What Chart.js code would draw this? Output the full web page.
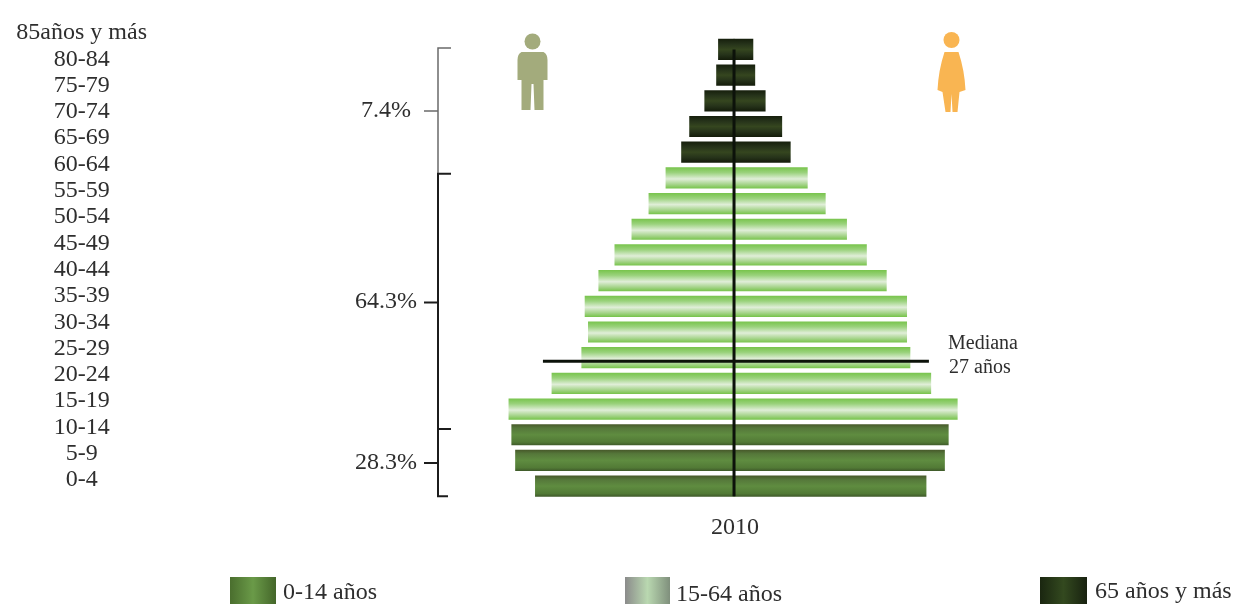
<!DOCTYPE html>
<html lang="es">
<head>
    <meta charset="UTF-8">
    <title>Pirámide de población 2010</title>
    <script src="https://cdn.jsdelivr.net/npm/chart.js"></script>
    <style>
        html, body { margin: 0; padding: 0; background: #fff; }
        canvas { display: block; }
    </style>
</head>
<body>
    <canvas id="myChart" width="1243" height="607"></canvas>

    <script>
        // Age groups, oldest first
        const ageTicks = ['85años y más', '80-84', '75-79', '70-74', '65-69', '60-64', '55-59', '50-54', '45-49',
            '40-44', '35-39', '30-34', '25-29', '20-24', '15-19', '10-14', '5-9', '0-4'];

        // Share of population per bar, in percent (men to the left, women to the right)
        const men = [0.33, 0.37, 0.62, 0.94, 1.11, 1.44, 1.80, 2.16, 2.52, 2.86, 3.15, 3.08, 3.22, 3.85, 4.76, 4.70, 4.62, 4.20];
        const women = [0.40, 0.44, 0.66, 1.01, 1.19, 1.55, 1.93, 2.38, 2.80, 3.22, 3.65, 3.65, 3.72, 4.16, 4.72, 4.53, 4.45, 4.06];

        // Broad age group of each bar: 2 = 65+, 1 = 15-64, 0 = 0-14
        const bands = [2, 2, 2, 2, 2, 1, 1, 1, 1, 1, 1, 1, 1, 1, 1, 0, 0, 0];
        const bandNames = ['0-14 años', '15-64 años', '65 años y más'];

        // Brackets on the left: edges on the bar scale and their shares
        const bracketEdges = [-0.06, 4.84, 14.78, 17.39];
        const bracketMiddles = [2.4, 9.85, 16.1];
        const bracketLabels = ['7.4%', '64.3%', '28.3%'];

        const medianBar = 12.14;
        const medianSpan = [-4.04, 4.12];
        const year = '2010';

        const serif = '"Liberation Serif", serif';
        const textColor = '#2e2e2e';

        const bandStops = [
            [[0, '#47592a'], [0.18, '#55773a'], [0.5, '#5f8c40'], [0.85, '#527a36'], [1, '#3f5a2a']],
            [[0, '#78c44c'], [0.25, '#9ad27c'], [0.55, '#e0eed8'], [0.8, '#a8d58e'], [1, '#78c44c']],
            [[0, '#161f0c'], [0.25, '#26331a'], [0.5, '#35461f'], [0.75, '#26331a'], [1, '#141c0a']]
        ];

        function barFill(context) {
            const { chart, parsed, dataIndex } = context;
            const center = parsed && chart.scales.y ? chart.scales.y.getPixelForValue(parsed.y) : NaN;
            // scales have no pixels yet on the first pass
            if (!Number.isFinite(center)) return bandStops[bands[dataIndex]][2][1];
            const g = chart.ctx.createLinearGradient(0, center - 10.5, 0, center + 10.5);
            bandStops[bands[dataIndex]].forEach(s => g.addColorStop(s[0], s[1]));
            return g;
        }

        function drawFigure(ctx, cx, color, female) {
            ctx.fillStyle = color;
            ctx.beginPath();
            ctx.arc(cx, female ? 40 : 41.5, 8, 0, Math.PI * 2);
            ctx.fill();
            ctx.beginPath();
            if (female) {
                ctx.moveTo(cx - 7, 52);
                ctx.lineTo(cx + 7, 52);
                ctx.quadraticCurveTo(cx + 13, 70, cx + 14, 90);
                ctx.lineTo(cx + 8, 92);
                ctx.lineTo(cx + 6, 112);
                ctx.lineTo(cx + 1, 112);
                ctx.lineTo(cx, 94);
                ctx.lineTo(cx - 1, 112);
                ctx.lineTo(cx - 6, 112);
                ctx.lineTo(cx - 9, 92);
                ctx.lineTo(cx - 14, 90);
                ctx.quadraticCurveTo(cx - 13, 70, cx - 7, 52);
            } else {
                ctx.moveTo(cx - 11, 52);
                ctx.lineTo(cx + 11, 52);
                ctx.quadraticCurveTo(cx + 15, 54, cx + 15, 60);
                ctx.lineTo(cx + 15, 80);
                ctx.lineTo(cx + 11, 80);
                ctx.lineTo(cx + 11, 110);
                ctx.lineTo(cx + 2, 110);
                ctx.lineTo(cx + 1, 84);
                ctx.lineTo(cx - 1, 84);
                ctx.lineTo(cx - 2, 110);
                ctx.lineTo(cx - 11, 110);
                ctx.lineTo(cx - 11, 80);
                ctx.lineTo(cx - 15, 80);
                ctx.lineTo(cx - 15, 60);
                ctx.quadraticCurveTo(cx - 15, 54, cx - 11, 52);
            }
            ctx.fill();
        }

        // Median line, centre line, brackets, figures and legend
        const annotations = {
            id: 'annotations',
            afterDatasetsDraw(chart) {
                const { ctx, scales: { x, y } } = chart;
                const zero = x.getPixelForValue(0);
                ctx.save();

                ctx.strokeStyle = '#0c120a';
                ctx.lineWidth = 3;
                ctx.beginPath();
                ctx.moveTo(zero, y.getPixelForValue(0));
                ctx.lineTo(zero, y.getPixelForValue(17.39));
                ctx.stroke();

                const medianY = y.getPixelForValue(medianBar);
                ctx.lineWidth = 3;
                ctx.beginPath();
                ctx.moveTo(x.getPixelForValue(medianSpan[0]), medianY);
                ctx.lineTo(x.getPixelForValue(medianSpan[1]), medianY);
                ctx.stroke();

                ctx.fillStyle = textColor;
                ctx.textBaseline = 'alphabetic';
                ctx.textAlign = 'left';
                ctx.font = '20px ' + serif;
                ctx.fillText('Mediana', 948, 349);
                ctx.fillText('27 años', 949, 373);

                ctx.textAlign = 'center';
                ctx.font = '24px ' + serif;
                ctx.fillText(year, zero + 1, 534);

                // Brackets
                const bx = 438;
                bracketLabels.forEach((label, i) => {
                    const top = y.getPixelForValue(bracketEdges[i]);
                    const bottom = y.getPixelForValue(bracketEdges[i + 1]);
                    const mid = y.getPixelForValue(bracketMiddles[i]);
                    ctx.strokeStyle = i === 0 ? '#6a6a6a' : '#1c1c1c';
                    ctx.lineWidth = i === 0 ? 1.5 : 2;
                    ctx.beginPath();
                    ctx.moveTo(bx + 13, top);
                    ctx.lineTo(bx, top);
                    ctx.lineTo(bx, bottom);
                    if (i === 2) ctx.lineTo(bx + 10, bottom);
                    ctx.moveTo(bx, mid);
                    ctx.lineTo(bx - 14, mid);
                    ctx.stroke();
                    ctx.textAlign = 'center';
                    ctx.fillText(label, 386, mid + 6);
                });

                drawFigure(ctx, 532.5, '#a3ab7c', false);
                drawFigure(ctx, 951.5, '#f9b552', true);

                // Legend
                const swatches = [[230, 46, 283, 599], [625, 45, 676, 601], [1040, 47, 1095, 598]];
                const swatchStops = [
                    [[0, '#4a6e2e'], [0.5, '#6a9a48'], [1, '#44662a']],
                    [[0, '#8b8b8b'], [0.5, '#b9d8b0'], [1, '#7f8f7c']],
                    [[0, '#1a2610'], [0.5, '#33491f'], [1, '#182210']]
                ];
                bandNames.forEach((name, i) => {
                    const [sx, sw, tx, ty] = swatches[i];
                    const g = ctx.createLinearGradient(sx, 0, sx + sw, 0);
                    swatchStops[i].forEach(s => g.addColorStop(s[0], s[1]));
                    ctx.fillStyle = g;
                    ctx.fillRect(sx, 577, sw, 27);
                    ctx.fillStyle = textColor;
                    ctx.textAlign = 'left';
                    ctx.fillText(name, tx, ty);
                });
                ctx.restore();
            }
        };

        const chartCtx = document.getElementById('myChart').getContext('2d');
        const myChart = new Chart(chartCtx, {
            type: 'bar',
            data: {
                datasets: [
                    { label: 'Hombres', data: men.map((v, i) => ({ x: -v, y: i })), backgroundColor: barFill },
                    { label: 'Mujeres', data: women.map((v, i) => ({ x: v, y: i })), backgroundColor: barFill }
                ]
            },
            options: {
                indexAxis: 'y',
                responsive: false,
                animation: false,
                barThickness: 20.5,
                layout: { autoPadding: false, padding: { top: 10, bottom: 97, left: 0, right: 0 } },
                plugins: { legend: { display: false }, tooltip: { enabled: false } },
                scales: {
                    x: { type: 'linear', stacked: true, display: false, min: -12.347, max: 10.76 },
                    y: { type: 'linear', stacked: true, display: false, offset: false, reverse: true, min: -1.247, max: 17.93 },
                    // Age labels run on their own slightly wider spacing
                    yAge: {
                        type: 'linear',
                        axis: 'y',
                        position: 'left',
                        offset: false,
                        reverse: true,
                        min: -0.592,
                        max: 18.14,
                        grid: { display: false, drawTicks: false },
                        border: { display: false },
                        afterFit(scale) { scale.width = 150; },
                        ticks: {
                            stepSize: 1,
                            autoSkip: false,
                            includeBounds: false,
                            crossAlign: 'center',
                            padding: 3,
                            color: textColor,
                            font: { family: serif, size: 24 },
                            callback: value => ageTicks[value]
                        }
                    }
                }
            },
            plugins: [annotations]
        });
    </script>
</body>
</html>
